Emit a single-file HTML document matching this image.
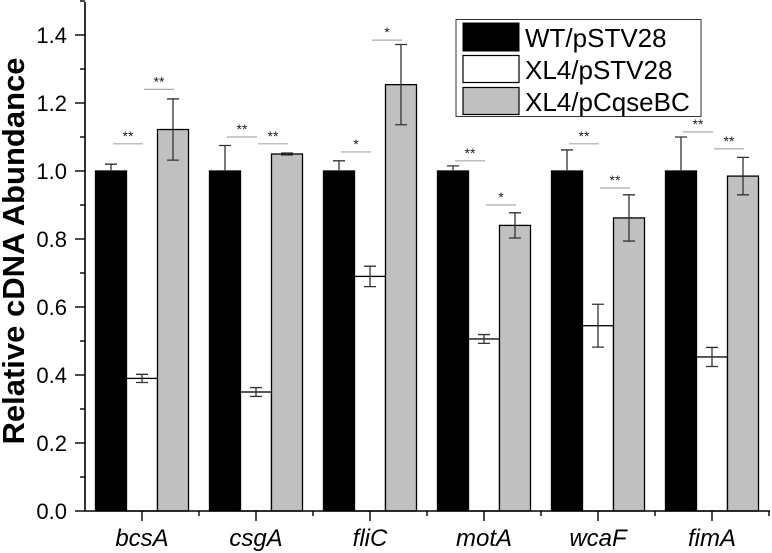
<!DOCTYPE html>
<html><head><meta charset="utf-8"><style>
html,body{margin:0;padding:0;background:#fff;}
svg{display:block;font-family:"Liberation Sans",sans-serif;}
</style></head><body>
<svg id="chart" width="772" height="553" viewBox="0 0 772 553" xmlns="http://www.w3.org/2000/svg">
<g id="plot"></g>
<text transform="translate(24,251) rotate(-90)" text-anchor="middle" font-size="31" font-weight="bold">Relative cDNA Abundance</text>
<g>
<rect x="456" y="19.5" width="245" height="97" fill="#fff" stroke="#333" stroke-width="1"/>
<g><rect x="463" y="23" width="56" height="28" fill="#000" stroke="#000"/><text x="525" y="47" font-size="26">WT/pSTV28</text></g>
<g><rect x="463" y="55.5" width="56" height="27" fill="#fff" stroke="#000" stroke-width="1.2"/><text x="525" y="79" font-size="26">XL4/pSTV28</text></g>
<g><rect x="463" y="87.5" width="56" height="27" fill="#c0c0c0" stroke="#000" stroke-width="1.2"/><text x="525" y="111" font-size="26">XL4/pCqseBC</text></g>
</g>
</svg>
<script>
const categories = ["bcsA","csgA","fliC","motA","wcaF","fimA"];
const wtValues = [1.0,1.0,1.0,1.0,1.0,1.0];
const wtErrors = [0.02,0.075,0.03,0.015,0.062,0.1];
const xl4Values = [0.39,0.35,0.69,0.506,0.545,0.453];
const xl4Errors = [0.012,0.013,0.03,0.013,0.063,0.028];
const compValues = [1.122,1.05,1.254,0.84,0.862,0.985];
const compErrors = [0.09,0.003,0.118,0.037,0.068,0.055];
const sig1Y = [1.08,1.10,1.056,1.03,1.08,1.115];
const sig1Label = ["**","**","*","**","**","**"];
const sig2Y = [1.24,1.08,1.385,0.90,0.95,1.065];
const sig2Label = ["**","**","*","*","**","**"];
const yTicks = ["0.0","0.2","0.4","0.6","0.8","1.0","1.2","1.4"];

const NS="http://www.w3.org/2000/svg";
const plot=document.getElementById('plot');
const X0=85, Y0=511, PX=340, CW=114, BW=31;
function y(v){return Y0-v*PX;}
function cx(i){return X0+57+i*CW;}
function mk(tag,attrs){const e=document.createElementNS(NS,tag);for(const k in attrs)e.setAttribute(k,attrs[k]);plot.appendChild(e);return e;}

const series=[[wtValues,wtErrors,"#000",-1,"wt"],[xl4Values,xl4Errors,"#fff",0,"xl4"],[compValues,compErrors,"#c0c0c0",1,"xl4-pcqsebc"]];
series.forEach(s=>{
  s[0].forEach((v,i)=>{
    const c=cx(i)+s[3]*BW;
    const b=mk('rect',{x:c-BW/2,y:y(v),width:BW,height:Y0-y(v),fill:s[2],stroke:"#000","stroke-width":1.3});
    
    
    const e=s[1][i];
    const lo=s[3]===-1?v:v-e;
    const g=mk('path',{d:`M${c} ${y(lo)}V${y(v+e)}M${c-6} ${y(v+e)}h12`+(s[3]===-1?'':`M${c-6} ${y(v-e)}h12`),stroke:"#333","stroke-width":1.3,fill:"none"});
    
    
  });
});
function sig(arr,lab,off,nm){
  arr.forEach((v,i)=>{
    const c=cx(i);
    const l=mk('line',{x1:c+off,x2:c+off+30,y1:y(v),y2:y(v),stroke:"#aaa","stroke-width":1.2});
    
    
    const t=mk('text',{x:c+off+15,y:y(v)-3,"text-anchor":"middle","font-size":14,fill:"#222"});
    t.textContent=lab[i];
    
    
  });
}
sig(sig1Y,sig1Label,-29,'sig-wt-xl4');
sig(sig2Y,sig2Label,2,'sig-xl4-comp');

const ax=mk('path',{d:`M${X0} 2V${Y0}H770`,stroke:"#000","stroke-width":1.6,fill:"none"});


for(let k=0;k<=15;k++){
  const len=k%2===0?10:5;
  const t=mk('line',{x1:X0-len,x2:X0,y1:y(k/10),y2:y(k/10),stroke:"#000","stroke-width":1.4});
  
  
}
yTicks.forEach(s=>{
  const t=mk('text',{x:67,y:y(parseFloat(s))+8,"text-anchor":"end","font-size":22});
  t.textContent=s;
  
  
});
categories.forEach((c,i)=>{
  const t=mk('line',{x1:cx(i),x2:cx(i),y1:Y0,y2:Y0+10,stroke:"#000","stroke-width":1.4});
  
  
  const m=mk('line',{x1:cx(i)+CW/2,x2:cx(i)+CW/2,y1:Y0,y2:Y0+5,stroke:"#000","stroke-width":1.4});
  
  
  const l=mk('text',{x:cx(i),y:Y0+35,"text-anchor":"middle","font-size":24,"font-style":"italic"});
  l.textContent=c;
  
  
});
</script>
</body></html>
